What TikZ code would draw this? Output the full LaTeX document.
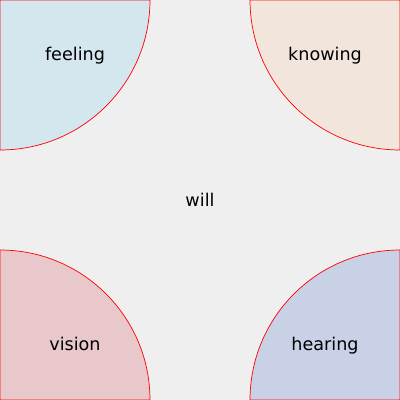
\documentclass[tikz,border=0pt]{standalone}
\usepackage{fontspec}
\setmainfont{DejaVu Sans}
\usepackage{tikz}
\definecolor{bgc}{RGB}{239,239,239}
\definecolor{feelc}{RGB}{212,230,238}
\definecolor{knowc}{RGB}{242,230,220}
\definecolor{visc}{RGB}{232,200,202}
\definecolor{hearc}{RGB}{200,209,230}
\begin{document}
\begin{tikzpicture}[x=0.025cm, y=-0.025cm,
  quad/.style={draw=red, line width=0.5pt},
  lbl/.style={font=\fontsize{12.5}{15}\selectfont, text=black, anchor=base}]
  \fill[bgc] (0,0) rectangle (400,400);
  \useasboundingbox (0,0) rectangle (400,400);
  % four corner quarters
  \draw[quad, fill=feelc] (0,0) -- (150,0) arc[start angle=0, end angle=90, radius=150] -- cycle;
  \draw[quad, fill=knowc] (400,0) -- (250,0) arc[start angle=180, end angle=90, radius=150] -- cycle;
  \draw[quad, fill=visc] (0,400) -- (150,400) arc[start angle=0, end angle=-90, radius=150] -- cycle;
  \draw[quad, fill=hearc] (400,400) -- (250,400) arc[start angle=180, end angle=270, radius=150] -- cycle;
  \node[lbl] (feeling) at (75,61) {feeling};
  \node[lbl] (knowing) at (325,61) {knowing};
  \node[lbl] (will) at (200,206) {will};
  \node[lbl] (vision) at (75,350) {vision};
  \node[lbl] (hearing) at (325,350) {hearing};
\end{tikzpicture}
\end{document}
